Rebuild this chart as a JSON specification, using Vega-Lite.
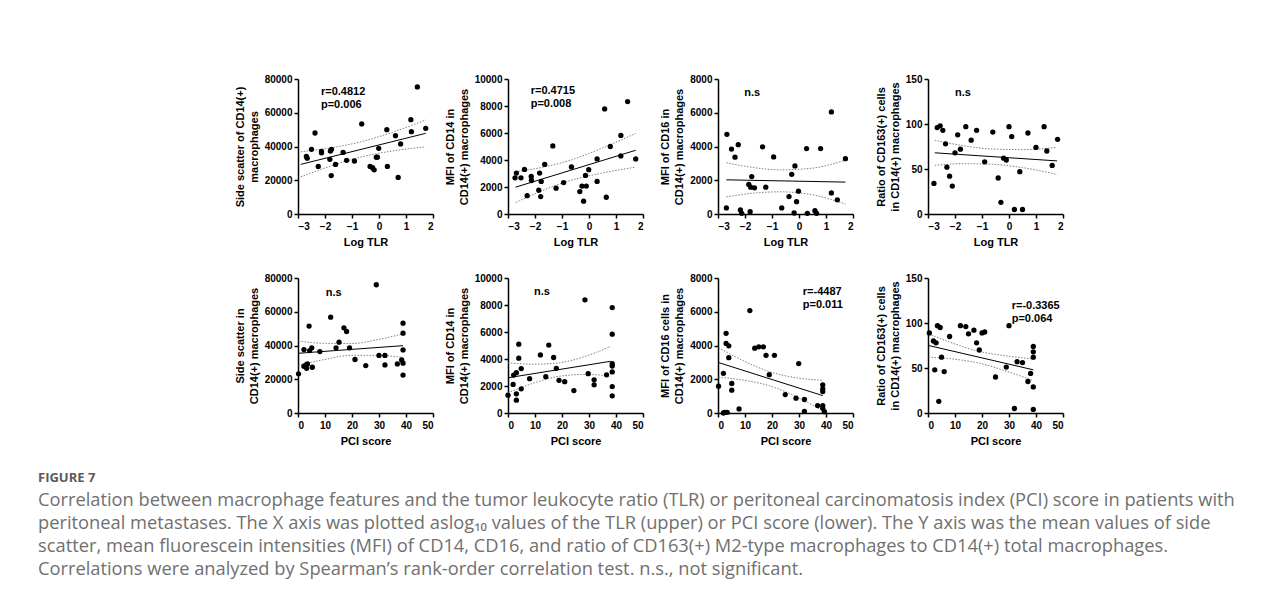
{
  "$schema": "https://vega.github.io/schema/vega-lite/v6.json",
  "padding": {"left": 38, "top": 74, "right": 5, "bottom": 5},
  "background": "white",
  "title": {
    "text": "FIGURE 7",
    "subtitle": [
      "Correlation between macrophage features and the tumor leukocyte ratio (TLR) or peritoneal carcinomatosis index (PCI) score in patients with",
      "peritoneal metastases. The X axis was plotted aslog₁₀ values of the TLR (upper) or PCI score (lower). The Y axis was the mean values of side",
      "scatter, mean fluorescein intensities (MFI) of CD14, CD16, and ratio of CD163(+) M2-type macrophages to CD14(+) total macrophages.",
      "Correlations were analyzed by Spearman’s rank-order correlation test. n.s., not significant."
    ],
    "orient": "bottom", "anchor": "start", "frame": "group", "offset": 26, "dx": -260,
    "font": "Open Sans", "fontSize": 13, "fontWeight": "bold", "color": "#5a5a5a",
    "subtitleFont": "Open Sans", "subtitleFontSize": 18.3, "subtitleColor": "#707070", "subtitleLineHeight": 23, "subtitlePadding": 7
  },
  "config": {
    "view": {"stroke": null},
    "axis": {"grid": false, "domainColor": "#000", "domainWidth": 1.5, "tickColor": "#000", "tickWidth": 1.5, "tickSize": 4,
      "labelFont": "Liberation Sans", "labelFontWeight": "bold", "labelFontSize": 10, "labelColor": "#000", "labelPadding": 2,
      "titleFont": "Liberation Sans", "titleFontWeight": "bold", "titleFontSize": 11, "titleColor": "#000", "titlePadding": 5, "titleLineHeight": 14},
    "axisX": {"labelPadding": 3, "titlePadding": 5},
    "text": {"font": "Liberation Sans", "fontWeight": "bold", "fontSize": 11, "align": "left", "baseline": "top", "lineHeight": 13, "color": "#000"}
  },
  "datasets": {
    "p1": [{"x":-2.69,"y":34100},{"x":-2.66,"y":33100},{"x":-2.5,"y":38300},{"x":-2.37,"y":48000},{"x":-2.25,"y":28200},{"x":-2.13,"y":37100},{"x":-2.13,"y":36300},{"x":-1.82,"y":32400},{"x":-1.8,"y":37300},{"x":-1.76,"y":38300},{"x":-1.77,"y":22800},{"x":-1.61,"y":29400},{"x":-1.33,"y":36500},{"x":-1.2,"y":31800},{"x":-0.91,"y":31400},{"x":-0.64,"y":53400},{"x":-0.33,"y":28200},{"x":-0.24,"y":27400},{"x":-0.18,"y":26200},{"x":-0.1,"y":33700},{"x":-0.06,"y":33700},{"x":-0.01,"y":38900},{"x":0.29,"y":50000},{"x":0.31,"y":28200},{"x":0.61,"y":46400},{"x":0.71,"y":21700},{"x":0.8,"y":41500},{"x":1.18,"y":55900},{"x":1.2,"y":48800},{"x":1.42,"y":75300},{"x":1.73,"y":50800}],
    "b1": [{"s":"fit","x":-2.9,"y":29400},{"s":"fit","x":1.73,"y":47800},
      {"s":"up","x":-2.9,"y":36850},{"s":"up","x":-1.8,"y":39160},{"s":"up","x":-0.7,"y":42640},{"s":"up","x":0.5,"y":48440},{"s":"up","x":1.73,"y":55730},
      {"s":"lo","x":-2.9,"y":21950},{"s":"lo","x":-1.8,"y":28380},{"s":"lo","x":-0.7,"y":33640},{"s":"lo","x":0.5,"y":37360},{"s":"lo","x":1.73,"y":39830}],
    "p2": [{"x":-2.74,"y":2680},{"x":-2.69,"y":3030},{"x":-2.52,"y":2680},{"x":-2.39,"y":3300},{"x":-2.29,"y":1360},{"x":-2.14,"y":2780},{"x":-2.13,"y":2480},{"x":-1.83,"y":3030},{"x":-1.86,"y":1760},{"x":-1.79,"y":1290},{"x":-1.77,"y":2410},{"x":-1.64,"y":3670},{"x":-1.34,"y":5040},{"x":-1.22,"y":1910},{"x":-0.94,"y":2330},{"x":-0.65,"y":3480},{"x":-0.34,"y":1660},{"x":-0.26,"y":2070},{"x":-0.2,"y":950},{"x":-0.13,"y":2860},{"x":-0.1,"y":2070},{"x":-0.01,"y":3280},{"x":0.3,"y":2410},{"x":0.3,"y":4080},{"x":0.58,"y":7780},{"x":0.64,"y":1240},{"x":0.79,"y":5000},{"x":1.18,"y":5820},{"x":1.18,"y":4300},{"x":1.43,"y":8330},{"x":1.73,"y":4080}],
    "b2": [{"s":"fit","x":-2.72,"y":1985},{"s":"fit","x":1.73,"y":4720},
      {"s":"up","x":-2.72,"y":3125},{"s":"up","x":-1.7,"y":3469},{"s":"up","x":-0.75,"y":3946},{"s":"up","x":0.5,"y":4892},{"s":"up","x":1.73,"y":5970},
      {"s":"lo","x":-2.72,"y":845},{"s":"lo","x":-1.7,"y":1755},{"s":"lo","x":-0.75,"y":2446},{"s":"lo","x":0.5,"y":3038},{"s":"lo","x":1.73,"y":3470}],
    "p3": [{"x":-2.67,"y":4720},{"x":-2.5,"y":3850},{"x":-2.37,"y":3370},{"x":-2.25,"y":4110},{"x":-2.69,"y":360},{"x":-2.17,"y":240},{"x":-2.12,"y":40},{"x":-1.81,"y":140},{"x":-1.75,"y":2220},{"x":-1.86,"y":1750},{"x":-1.79,"y":1590},{"x":-1.65,"y":1550},{"x":-1.23,"y":1590},{"x":-1.35,"y":3980},{"x":-0.94,"y":3380},{"x":-0.64,"y":360},{"x":-0.37,"y":1030},{"x":-0.27,"y":2350},{"x":-0.15,"y":2850},{"x":-0.09,"y":730},{"x":-0.18,"y":60},{"x":-0.02,"y":1350},{"x":0.28,"y":3880},{"x":0.31,"y":40},{"x":0.59,"y":200},{"x":0.65,"y":40},{"x":0.8,"y":3880},{"x":1.2,"y":6050},{"x":1.2,"y":1250},{"x":1.42,"y":840},{"x":1.72,"y":3280}],
    "b3": [{"s":"fit","x":-2.69,"y":2025},{"s":"fit","x":1.72,"y":1890},
      {"s":"up","x":-2.69,"y":3040},{"s":"up","x":-1.7,"y":2755},{"s":"up","x":-0.7,"y":2614},{"s":"up","x":0.5,"y":2717},{"s":"up","x":1.72,"y":3190},
      {"s":"lo","x":-2.69,"y":1010},{"s":"lo","x":-1.7,"y":1235},{"s":"lo","x":-0.7,"y":1314},{"s":"lo","x":0.5,"y":1137},{"s":"lo","x":1.72,"y":590}],
    "p4": [{"x":-2.66,"y":96},{"x":-2.55,"y":98},{"x":-2.45,"y":93},{"x":-2.78,"y":34},{"x":-2.35,"y":78},{"x":-2.3,"y":52},{"x":-2.2,"y":42},{"x":-2.1,"y":31},{"x":-2.0,"y":68},{"x":-1.9,"y":88},{"x":-1.8,"y":72},{"x":-1.6,"y":97},{"x":-1.4,"y":82},{"x":-1.2,"y":93},{"x":-0.9,"y":58},{"x":-0.6,"y":91},{"x":-0.4,"y":40},{"x":-0.3,"y":13},{"x":-0.2,"y":62},{"x":-0.1,"y":60},{"x":0.0,"y":97},{"x":0.1,"y":86},{"x":0.2,"y":5},{"x":0.4,"y":47},{"x":0.5,"y":5},{"x":0.7,"y":90},{"x":1.0,"y":74},{"x":1.3,"y":97},{"x":1.4,"y":70},{"x":1.6,"y":54},{"x":1.8,"y":83}],
    "b4": [{"s":"fit","x":-2.75,"y":68},{"s":"fit","x":1.78,"y":59},
      {"s":"up","x":-2.75,"y":82},{"s":"up","x":-1.7,"y":75.9},{"s":"up","x":-0.6,"y":72.2},{"s":"up","x":0.5,"y":71.5},{"s":"up","x":1.78,"y":74},
      {"s":"lo","x":-2.75,"y":54},{"s":"lo","x":-1.7,"y":55.9},{"s":"lo","x":-0.6,"y":55.2},{"s":"lo","x":0.5,"y":51.5},{"s":"lo","x":1.78,"y":44}],
    "p5": [{"x":0.2,"y":23200},{"x":2.2,"y":27700},{"x":2.2,"y":37600},{"x":2.96,"y":28500},{"x":3.2,"y":26500},{"x":3.5,"y":29100},{"x":4.1,"y":51500},{"x":4.3,"y":37000},{"x":5.1,"y":38600},{"x":5.3,"y":27100},{"x":8.1,"y":36400},{"x":12.1,"y":56800},{"x":14.1,"y":38600},{"x":15.2,"y":42000},{"x":17.0,"y":50500},{"x":18.0,"y":48300},{"x":19.1,"y":38600},{"x":21.1,"y":31700},{"x":25.1,"y":28100},{"x":29.0,"y":76000},{"x":30.0,"y":34100},{"x":32.2,"y":34100},{"x":32.2,"y":28500},{"x":36.8,"y":29100},{"x":38.9,"y":53200},{"x":38.9,"y":47300},{"x":38.9,"y":37400},{"x":38.4,"y":31400},{"x":38.9,"y":29500},{"x":38.9,"y":22500}],
    "b5": [{"s":"fit","x":0.2,"y":35400},{"s":"fit","x":38.9,"y":39900},
      {"s":"up","x":0.2,"y":42650},{"s":"up","x":10,"y":41290},{"s":"up","x":20,"y":41200},{"s":"up","x":30,"y":43610},{"s":"up","x":38.9,"y":46900},
      {"s":"lo","x":0.2,"y":28150},{"s":"lo","x":10,"y":31790},{"s":"lo","x":20,"y":34200},{"s":"lo","x":30,"y":34110},{"s":"lo","x":38.9,"y":32900}],
    "p6": [{"x":0,"y":1320},{"x":1.9,"y":2120},{"x":2.1,"y":2810},{"x":3.1,"y":2990},{"x":3.1,"y":1420},{"x":3.1,"y":950},{"x":4.0,"y":5100},{"x":4.0,"y":4060},{"x":4.9,"y":3290},{"x":4.9,"y":1790},{"x":8.0,"y":2540},{"x":12.0,"y":4300},{"x":14.0,"y":2690},{"x":15.1,"y":5030},{"x":16.9,"y":4110},{"x":17.9,"y":3310},{"x":18.9,"y":2420},{"x":21.0,"y":2320},{"x":28.5,"y":8380},{"x":24.4,"y":1660},{"x":29.7,"y":2910},{"x":31.9,"y":2460},{"x":31.9,"y":2090},{"x":36.5,"y":2830},{"x":38.6,"y":7810},{"x":38.6,"y":5840},{"x":38.6,"y":3650},{"x":38.6,"y":3480},{"x":38.6,"y":3040},{"x":38.6,"y":1960},{"x":38.6,"y":1270}],
    "b6": [{"s":"fit","x":0,"y":2610},{"s":"fit","x":38,"y":3830},
      {"s":"up","x":0,"y":3710},{"s":"up","x":10,"y":3613},{"s":"up","x":19,"y":3720},{"s":"up","x":29,"y":4223},{"s":"up","x":38,"y":4930},
      {"s":"lo","x":0,"y":1510},{"s":"lo","x":10,"y":2249},{"s":"lo","x":19,"y":2720},{"s":"lo","x":29,"y":2859},{"s":"lo","x":38,"y":2730}],
    "p7": [{"x":0.2,"y":1590},{"x":2.0,"y":2350},{"x":2.0,"y":0},{"x":2.4,"y":40},{"x":3.0,"y":4720},{"x":3.0,"y":4120},{"x":3.4,"y":40},{"x":4.0,"y":3980},{"x":4.0,"y":3280},{"x":5.1,"y":1750},{"x":5.1,"y":1350},{"x":7.8,"y":240},{"x":11.8,"y":6070},{"x":13.6,"y":3840},{"x":15.1,"y":3920},{"x":16.8,"y":3920},{"x":17.8,"y":3420},{"x":20.9,"y":3420},{"x":19.0,"y":2270},{"x":24.9,"y":1090},{"x":28.9,"y":880},{"x":29.9,"y":2930},{"x":32.0,"y":800},{"x":32.0,"y":100},{"x":36.9,"y":440},{"x":38.8,"y":1670},{"x":38.8,"y":1430},{"x":38.8,"y":1270},{"x":38.8,"y":440},{"x":38.8,"y":280},{"x":39.4,"y":80}],
    "b7": [{"s":"fit","x":0.2,"y":2990},{"s":"fit","x":38.8,"y":1030},
      {"s":"up","x":0.2,"y":3865},{"s":"up","x":10,"y":3050},{"s":"up","x":19,"y":2455},{"s":"up","x":29,"y":2085},{"s":"up","x":38.8,"y":1941},
      {"s":"lo","x":0.2,"y":2115},{"s":"lo","x":10,"y":1934},{"s":"lo","x":19,"y":1615},{"s":"lo","x":29,"y":969},{"s":"lo","x":38.8,"y":119}],
    "p8": [{"x":0.5,"y":89},{"x":2,"y":80},{"x":2.5,"y":48},{"x":3,"y":78},{"x":3.5,"y":97},{"x":4,"y":13},{"x":4.5,"y":95},{"x":5,"y":62},{"x":6,"y":46},{"x":8,"y":85},{"x":12,"y":97},{"x":14,"y":96},{"x":15,"y":88},{"x":17,"y":92},{"x":18,"y":78},{"x":20,"y":89},{"x":21,"y":90},{"x":25,"y":40},{"x":29,"y":51},{"x":30,"y":97},{"x":32,"y":5},{"x":35,"y":56},{"x":37,"y":35},{"x":39,"y":74},{"x":39,"y":68},{"x":39,"y":62},{"x":39,"y":29},{"x":39,"y":4},{"x":38,"y":44},{"x":33,"y":57},{"x":19,"y":70}],
    "b8": [{"s":"fit","x":0.2,"y":75},{"s":"fit","x":39,"y":48},
      {"s":"up","x":0.2,"y":88},{"s":"up","x":10,"y":76.7},{"s":"up","x":19,"y":68.4},{"s":"up","x":29,"y":63.5},{"s":"up","x":39,"y":60},
      {"s":"lo","x":0.2,"y":62},{"s":"lo","x":10,"y":59.7},{"s":"lo","x":19,"y":55.4},{"s":"lo","x":29,"y":46.5},{"s":"lo","x":39,"y":36}]
  },
  "concat": [
    {"width": 135, "height": 135, "layer": [
      {"encoding": {
        "x": {"field": "x", "type": "quantitative", "scale": {"domain": [-3, 2], "nice": false, "zero": false}, "axis": {"values": [-3, -2, -1, 0, 1, 2], "title": "Log TLR"}},
        "y": {"field": "y", "type": "quantitative", "scale": {"domain": [0, 80000], "nice": false}, "axis": {"values": [0, 20000, 40000, 60000, 80000], "format": "d", "title": ["Side scatter of CD14(+)", "macrophages"]}}},
       "layer": [
        {"data": {"name": "b1"}, "transform": [{"filter": "datum.s != 'fit'"}], "mark": {"type": "line", "color": "#808080", "strokeWidth": 1, "strokeDash": [1.5, 1.5], "interpolate": "monotone"}, "encoding": {"detail": {"field": "s"}}},
        {"data": {"name": "b1"}, "transform": [{"filter": "datum.s == 'fit'"}], "mark": {"type": "line", "color": "#000", "strokeWidth": 1}, "encoding": {}},
        {"data": {"name": "p1"}, "mark": {"type": "circle", "size": 28, "color": "#000", "opacity": 1}}]},
      {"data": {"values": [{"t": "r=0.4812"}]}, "mark": {"type": "text", "text": ["r=0.4812", "p=0.006"]},
       "encoding": {
        "x": {"datum": -2.15, "type": "quantitative", "scale": {"domain": [-3, 2], "nice": false, "zero": false}, "axis": {"values": [-3, -2, -1, 0, 1, 2], "title": "Log TLR"}},
        "y": {"datum": 75800, "type": "quantitative", "scale": {"domain": [0, 80000], "nice": false}, "axis": {"values": [0, 20000, 40000, 60000, 80000], "format": "d", "title": ["Side scatter of CD14(+)", "macrophages"]}}}}
    ]},
    {"width": 135, "height": 135, "layer": [
      {"encoding": {
        "x": {"field": "x", "type": "quantitative", "scale": {"domain": [-3, 2], "nice": false, "zero": false}, "axis": {"values": [-3, -2, -1, 0, 1, 2], "title": "Log TLR"}},
        "y": {"field": "y", "type": "quantitative", "scale": {"domain": [0, 10000], "nice": false}, "axis": {"values": [0, 2000, 4000, 6000, 8000, 10000], "format": "d", "title": ["MFI of CD14 in", "CD14(+) macrophages"]}}},
       "layer": [
        {"data": {"name": "b2"}, "transform": [{"filter": "datum.s != 'fit'"}], "mark": {"type": "line", "color": "#808080", "strokeWidth": 1, "strokeDash": [1.5, 1.5], "interpolate": "monotone"}, "encoding": {"detail": {"field": "s"}}},
        {"data": {"name": "b2"}, "transform": [{"filter": "datum.s == 'fit'"}], "mark": {"type": "line", "color": "#000", "strokeWidth": 1}, "encoding": {}},
        {"data": {"name": "p2"}, "mark": {"type": "circle", "size": 28, "color": "#000", "opacity": 1}}]},
      {"data": {"values": [{"t": "r=0.4715"}]}, "mark": {"type": "text", "text": ["r=0.4715", "p=0.008"]},
       "encoding": {
        "x": {"datum": -2.16, "type": "quantitative", "scale": {"domain": [-3, 2], "nice": false, "zero": false}, "axis": {"values": [-3, -2, -1, 0, 1, 2], "title": "Log TLR"}},
        "y": {"datum": 9550, "type": "quantitative", "scale": {"domain": [0, 10000], "nice": false}, "axis": {"values": [0, 2000, 4000, 6000, 8000, 10000], "format": "d", "title": ["MFI of CD14 in", "CD14(+) macrophages"]}}}}
    ]},
    {"width": 135, "height": 135, "layer": [
      {"encoding": {
        "x": {"field": "x", "type": "quantitative", "scale": {"domain": [-3, 2], "nice": false, "zero": false}, "axis": {"values": [-3, -2, -1, 0, 1, 2], "title": "Log TLR"}},
        "y": {"field": "y", "type": "quantitative", "scale": {"domain": [0, 8000], "nice": false}, "axis": {"values": [0, 2000, 4000, 6000, 8000], "format": "d", "title": ["MFI of CD16 in", "CD14(+) macrophages"]}}},
       "layer": [
        {"data": {"name": "b3"}, "transform": [{"filter": "datum.s != 'fit'"}], "mark": {"type": "line", "color": "#808080", "strokeWidth": 1, "strokeDash": [1.5, 1.5], "interpolate": "monotone"}, "encoding": {"detail": {"field": "s"}}},
        {"data": {"name": "b3"}, "transform": [{"filter": "datum.s == 'fit'"}], "mark": {"type": "line", "color": "#000", "strokeWidth": 1}, "encoding": {}},
        {"data": {"name": "p3"}, "mark": {"type": "circle", "size": 28, "color": "#000", "opacity": 1}}]},
      {"data": {"values": [{"t": "n.s"}]}, "mark": {"type": "text", "text": "n.s"},
       "encoding": {
        "x": {"datum": -2.03, "type": "quantitative", "scale": {"domain": [-3, 2], "nice": false, "zero": false}, "axis": {"values": [-3, -2, -1, 0, 1, 2], "title": "Log TLR"}},
        "y": {"datum": 7520, "type": "quantitative", "scale": {"domain": [0, 8000], "nice": false}, "axis": {"values": [0, 2000, 4000, 6000, 8000], "format": "d", "title": ["MFI of CD16 in", "CD14(+) macrophages"]}}}}
    ]},
    {"width": 135, "height": 135, "layer": [
      {"encoding": {
        "x": {"field": "x", "type": "quantitative", "scale": {"domain": [-3, 2], "nice": false, "zero": false}, "axis": {"values": [-3, -2, -1, 0, 1, 2], "title": "Log TLR"}},
        "y": {"field": "y", "type": "quantitative", "scale": {"domain": [0, 150], "nice": false}, "axis": {"values": [0, 50, 100, 150], "format": "d", "title": ["Ratio of CD163(+) cells", "in CD14(+) macrophages"]}}},
       "layer": [
        {"data": {"name": "b4"}, "transform": [{"filter": "datum.s != 'fit'"}], "mark": {"type": "line", "color": "#808080", "strokeWidth": 1, "strokeDash": [1.5, 1.5], "interpolate": "monotone"}, "encoding": {"detail": {"field": "s"}}},
        {"data": {"name": "b4"}, "transform": [{"filter": "datum.s == 'fit'"}], "mark": {"type": "line", "color": "#000", "strokeWidth": 1}, "encoding": {}},
        {"data": {"name": "p4"}, "mark": {"type": "circle", "size": 28, "color": "#000", "opacity": 1}}]},
      {"data": {"values": [{"t": "n.s"}]}, "mark": {"type": "text", "text": "n.s"},
       "encoding": {
        "x": {"datum": -2.0, "type": "quantitative", "scale": {"domain": [-3, 2], "nice": false, "zero": false}, "axis": {"values": [-3, -2, -1, 0, 1, 2], "title": "Log TLR"}},
        "y": {"datum": 141, "type": "quantitative", "scale": {"domain": [0, 150], "nice": false}, "axis": {"values": [0, 50, 100, 150], "format": "d", "title": ["Ratio of CD163(+) cells", "in CD14(+) macrophages"]}}}}
    ]},
    {"width": 135, "height": 135, "layer": [
      {"encoding": {
        "x": {"field": "x", "type": "quantitative", "scale": {"domain": [0, 50], "nice": false}, "axis": {"values": [0, 10, 20, 30, 40, 50], "title": "PCI score"}},
        "y": {"field": "y", "type": "quantitative", "scale": {"domain": [0, 80000], "nice": false}, "axis": {"values": [0, 20000, 40000, 60000, 80000], "format": "d", "title": ["Side scatter in", "CD14(+) macrophages"]}}},
       "layer": [
        {"data": {"name": "b5"}, "transform": [{"filter": "datum.s != 'fit'"}], "mark": {"type": "line", "color": "#808080", "strokeWidth": 1, "strokeDash": [1.5, 1.5], "interpolate": "monotone"}, "encoding": {"detail": {"field": "s"}}},
        {"data": {"name": "b5"}, "transform": [{"filter": "datum.s == 'fit'"}], "mark": {"type": "line", "color": "#000", "strokeWidth": 1}, "encoding": {}},
        {"data": {"name": "p5"}, "mark": {"type": "circle", "size": 28, "color": "#000", "opacity": 1}}]},
      {"data": {"values": [{"t": "n.s"}]}, "mark": {"type": "text", "text": "n.s"},
       "encoding": {
        "x": {"datum": 10.3, "type": "quantitative", "scale": {"domain": [0, 50], "nice": false}, "axis": {"values": [0, 10, 20, 30, 40, 50], "title": "PCI score"}},
        "y": {"datum": 74700, "type": "quantitative", "scale": {"domain": [0, 80000], "nice": false}, "axis": {"values": [0, 20000, 40000, 60000, 80000], "format": "d", "title": ["Side scatter in", "CD14(+) macrophages"]}}}}
    ]},
    {"width": 135, "height": 135, "layer": [
      {"encoding": {
        "x": {"field": "x", "type": "quantitative", "scale": {"domain": [0, 50], "nice": false}, "axis": {"values": [0, 10, 20, 30, 40, 50], "title": "PCI score"}},
        "y": {"field": "y", "type": "quantitative", "scale": {"domain": [0, 10000], "nice": false}, "axis": {"values": [0, 2000, 4000, 6000, 8000, 10000], "format": "d", "title": ["MFI of CD14 in", "CD14(+) macrophages"]}}},
       "layer": [
        {"data": {"name": "b6"}, "transform": [{"filter": "datum.s != 'fit'"}], "mark": {"type": "line", "color": "#808080", "strokeWidth": 1, "strokeDash": [1.5, 1.5], "interpolate": "monotone"}, "encoding": {"detail": {"field": "s"}}},
        {"data": {"name": "b6"}, "transform": [{"filter": "datum.s == 'fit'"}], "mark": {"type": "line", "color": "#000", "strokeWidth": 1}, "encoding": {}},
        {"data": {"name": "p6"}, "mark": {"type": "circle", "size": 28, "color": "#000", "opacity": 1}}]},
      {"data": {"values": [{"t": "n.s"}]}, "mark": {"type": "text", "text": "n.s"},
       "encoding": {
        "x": {"datum": 9.6, "type": "quantitative", "scale": {"domain": [0, 50], "nice": false}, "axis": {"values": [0, 10, 20, 30, 40, 50], "title": "PCI score"}},
        "y": {"datum": 9400, "type": "quantitative", "scale": {"domain": [0, 10000], "nice": false}, "axis": {"values": [0, 2000, 4000, 6000, 8000, 10000], "format": "d", "title": ["MFI of CD14 in", "CD14(+) macrophages"]}}}}
    ]},
    {"width": 135, "height": 135, "layer": [
      {"encoding": {
        "x": {"field": "x", "type": "quantitative", "scale": {"domain": [0, 50], "nice": false}, "axis": {"values": [0, 10, 20, 30, 40, 50], "title": "PCI score"}},
        "y": {"field": "y", "type": "quantitative", "scale": {"domain": [0, 8000], "nice": false}, "axis": {"values": [0, 2000, 4000, 6000, 8000], "format": "d", "title": ["MFI of CD16 cells in", "CD14(+) macrophages"]}}},
       "layer": [
        {"data": {"name": "b7"}, "transform": [{"filter": "datum.s != 'fit'"}], "mark": {"type": "line", "color": "#808080", "strokeWidth": 1, "strokeDash": [1.5, 1.5], "interpolate": "monotone"}, "encoding": {"detail": {"field": "s"}}},
        {"data": {"name": "b7"}, "transform": [{"filter": "datum.s == 'fit'"}], "mark": {"type": "line", "color": "#000", "strokeWidth": 1}, "encoding": {}},
        {"data": {"name": "p7"}, "mark": {"type": "circle", "size": 28, "color": "#000", "opacity": 1}}]},
      {"data": {"values": [{"t": "r=-4487"}]}, "mark": {"type": "text", "text": ["r=-4487", "p=0.011"]},
       "encoding": {
        "x": {"datum": 31.4, "type": "quantitative", "scale": {"domain": [0, 50], "nice": false}, "axis": {"values": [0, 10, 20, 30, 40, 50], "title": "PCI score"}},
        "y": {"datum": 7550, "type": "quantitative", "scale": {"domain": [0, 8000], "nice": false}, "axis": {"values": [0, 2000, 4000, 6000, 8000], "format": "d", "title": ["MFI of CD16 cells in", "CD14(+) macrophages"]}}}}
    ]},
    {"width": 135, "height": 135, "layer": [
      {"encoding": {
        "x": {"field": "x", "type": "quantitative", "scale": {"domain": [0, 50], "nice": false}, "axis": {"values": [0, 10, 20, 30, 40, 50], "title": "PCI score"}},
        "y": {"field": "y", "type": "quantitative", "scale": {"domain": [0, 150], "nice": false}, "axis": {"values": [0, 50, 100, 150], "format": "d", "title": ["Ratio of CD163(+) cells", "in CD14(+) macrophages"]}}},
       "layer": [
        {"data": {"name": "b8"}, "transform": [{"filter": "datum.s != 'fit'"}], "mark": {"type": "line", "color": "#808080", "strokeWidth": 1, "strokeDash": [1.5, 1.5], "interpolate": "monotone"}, "encoding": {"detail": {"field": "s"}}},
        {"data": {"name": "b8"}, "transform": [{"filter": "datum.s == 'fit'"}], "mark": {"type": "line", "color": "#000", "strokeWidth": 1}, "encoding": {}},
        {"data": {"name": "p8"}, "mark": {"type": "circle", "size": 28, "color": "#000", "opacity": 1}}]},
      {"data": {"values": [{"t": "r=-0.3365"}]}, "mark": {"type": "text", "text": ["r=-0.3365", "p=0.064"]},
       "encoding": {
        "x": {"datum": 31, "type": "quantitative", "scale": {"domain": [0, 50], "nice": false}, "axis": {"values": [0, 10, 20, 30, 40, 50], "title": "PCI score"}},
        "y": {"datum": 126, "type": "quantitative", "scale": {"domain": [0, 150], "nice": false}, "axis": {"values": [0, 50, 100, 150], "format": "d", "title": ["Ratio of CD163(+) cells", "in CD14(+) macrophages"]}}}}
    ]}
  ],
  "columns": 4,
  "spacing": {"row": 64, "column": 75},
  "bounds": "flush"
}
